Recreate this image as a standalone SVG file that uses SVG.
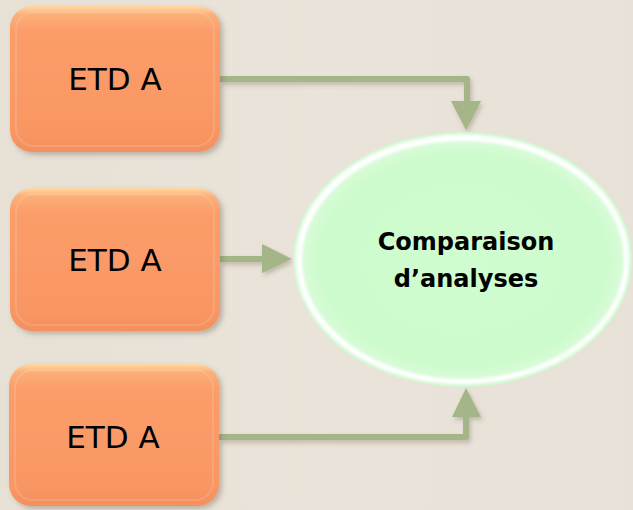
<svg xmlns="http://www.w3.org/2000/svg" width="633" height="510" viewBox="0 0 633 510">
<defs>
<linearGradient id="bg" x1="0" y1="0" x2="1" y2="0">
<stop offset="0" stop-color="#e6e0d5"/>
<stop offset="0.5" stop-color="#e9e3d9"/>
<stop offset="1" stop-color="#e7e1d7"/>
</linearGradient>
<linearGradient id="boxg" x1="0" y1="0" x2="0" y2="1">
<stop offset="0" stop-color="#ffd9a2"/>
<stop offset="0.06" stop-color="#fcae78"/>
<stop offset="0.18" stop-color="#fb9d69"/>
<stop offset="0.85" stop-color="#f99764"/>
<stop offset="1" stop-color="#f48f5e"/>
</linearGradient>
<radialGradient id="ellg" cx="0.5" cy="0.5" r="0.5">
<stop offset="0" stop-color="#cffdcf"/>
<stop offset="0.88" stop-color="#ccfbcc"/>
<stop offset="1" stop-color="#d8fbd8"/>
</radialGradient>
<filter id="sh" x="-10%" y="-10%" width="125%" height="125%">
<feDropShadow dx="3" dy="3" stdDeviation="2.5" flood-color="#6b5a48" flood-opacity="0.35"/>
</filter>
<filter id="lsh" x="-10%" y="-10%" width="125%" height="130%">
<feDropShadow dx="2" dy="3" stdDeviation="2" flood-color="#6b5a48" flood-opacity="0.3"/>
</filter>
<filter id="soft" x="-5%" y="-5%" width="110%" height="110%">
<feGaussianBlur stdDeviation="1.5"/>
</filter>
<style>
.box{fill:url(#boxg);filter:url(#sh);}
.bevel{fill:none;stroke:#ffffff;stroke-opacity:0.12;stroke-width:2;}
.lbl{font-family:"Comic Sans MS","DejaVu Sans",sans-serif;font-size:31px;fill:#000;text-anchor:middle;}
.ctr{font-family:"Comic Sans MS","DejaVu Sans",sans-serif;font-size:24px;font-weight:bold;fill:#000;text-anchor:middle;}
.ln{fill:none;stroke:#a4b587;stroke-width:6;stroke-linejoin:round;}
.hd{fill:#a4b587;}
</style>
</defs>
<rect x="0" y="0" width="633" height="510" fill="url(#bg)"/>
<g id="connectors" filter="url(#lsh)">
<path class="ln" d="M220 79 H467 V102"/>
<polygon class="hd" points="451,101 481,101 466,130"/>
<path class="ln" d="M220 259 H263"/>
<polygon class="hd" points="262,244 262,273 292,259"/>
<path class="ln" d="M219 437 H466 V416"/>
<polygon class="hd" points="452,417 481,417 466,388"/>
</g>
<g id="node-etd1">
<rect class="box" x="10" y="6" width="210" height="146" rx="22"/>
<rect class="bevel" x="16" y="12" width="198" height="134" rx="18"/>
<text class="lbl" x="115" y="90">ETD A</text>
</g>
<g id="node-etd2">
<rect class="box" x="10" y="188" width="210" height="143" rx="22"/>
<rect class="bevel" x="16" y="194" width="198" height="131" rx="18"/>
<text class="lbl" x="115" y="271">ETD A</text>
</g>
<g id="node-etd3">
<rect class="box" x="9" y="364" width="210" height="142" rx="22"/>
<rect class="bevel" x="15" y="370" width="198" height="130" rx="18"/>
<text class="lbl" x="113" y="448">ETD A</text>
</g>
<g id="node-comparaison">
<ellipse cx="462.5" cy="259.5" rx="169.5" ry="127.5" fill="#cdf8cd"/>
<ellipse cx="462.5" cy="259.5" rx="167" ry="125" fill="#ffffff" filter="url(#soft)"/>
<ellipse cx="463" cy="260" rx="161" ry="119" fill="url(#ellg)" filter="url(#soft)"/>
<text class="ctr" x="466" y="250">Comparaison</text>
<text class="ctr" x="466" y="287">d’analyses</text>
</g>
</svg>
